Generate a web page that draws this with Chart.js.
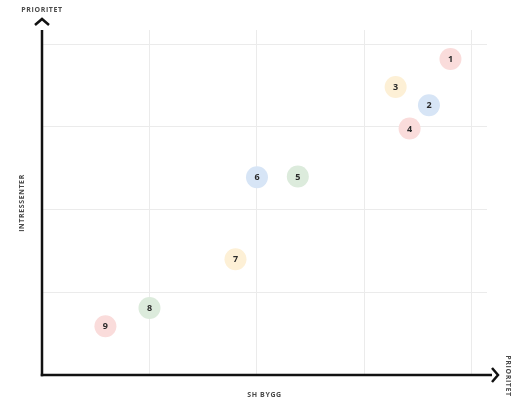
<!DOCTYPE html>
<html>
<head>
<meta charset="utf-8">
<script src="https://cdn.jsdelivr.net/npm/chart.js@4"></script>
<style>
  html, body { margin: 0; padding: 0; background: #fff; }
  #wrap { width: 523px; height: 402px; }
</style>
</head>
<body>
<div id="wrap"><canvas id="matrix"></canvas></div>
<script>
// --- data ---
const pointLabels = ['1', '2', '3', '4', '5', '6', '7', '8', '9'];
const shByggValues = [3.80, 3.60, 3.29, 3.42, 2.38, 2.00, 1.80, 1.00, 0.59];
const intressenterValues = [3.82, 3.26, 3.48, 2.98, 2.40, 2.39, 1.40, 0.81, 0.59];
const pointGroups = ['rod', 'bla', 'gul', 'rod', 'gron', 'bla', 'gul', 'gron', 'rod'];
const gridTicks = [0, 1, 2, 3, 4];

const xAxisTitle = 'SH BYGG';
const yAxisTitle = 'INTRESSENTER';
const arrowLabel = 'PRIORITET';

const groupColors = {
    rod: '#fadcdb',
    bla: '#d7e5f6',
    gul: '#fdf0d6',
    gron: '#dcebdc'
};

const axisColor = '#111111';
const gridColor = '#ebebeb';
const labelColor = '#4a4a4a';

const axesPlugin = {
    id: 'axesPlugin',
    afterDatasetsDraw(chart) {
        const { ctx, chartArea } = chart;
        const left = chartArea.left;
        const bottom = chartArea.bottom;

        ctx.save();
        ctx.strokeStyle = axisColor;
        ctx.lineWidth = 2.5;
        ctx.lineCap = 'butt';

        // y-axel
        ctx.beginPath();
        ctx.moveTo(left, bottom + 1.25);
        ctx.lineTo(left, chartArea.top);
        ctx.stroke();
        ctx.beginPath();
        ctx.moveTo(left - 7, chartArea.top - 5);
        ctx.lineTo(left, chartArea.top - 11);
        ctx.lineTo(left + 7, chartArea.top - 5);
        ctx.stroke();

        // x-axel
        ctx.beginPath();
        ctx.moveTo(left - 1.25, bottom);
        ctx.lineTo(chartArea.right + 5, bottom);
        ctx.stroke();
        ctx.beginPath();
        ctx.moveTo(chartArea.right + 5, bottom - 7);
        ctx.lineTo(chartArea.right + 11, bottom);
        ctx.lineTo(chartArea.right + 5, bottom + 7);
        ctx.stroke();

        // nummer i cirklarna
        const meta = chart.getDatasetMeta(0);
        ctx.fillStyle = '#2a2a2a';
        ctx.font = 'bold 9px "Open Sans"';
        ctx.textAlign = 'center';
        ctx.textBaseline = 'middle';
        meta.data.forEach((pt, i) => {
            ctx.fillText(pointLabels[i], pt.x, pt.y + 0.5);
        });

        // axeltexter
        ctx.fillStyle = labelColor;
        ctx.font = 'bold 7px "Open Sans"';
        ctx.letterSpacing = '0.6px';
        ctx.fillText(arrowLabel, left, 10);
        ctx.fillText(xAxisTitle, (left + chartArea.right) / 2, 395);

        ctx.save();
        ctx.translate(22, 203);
        ctx.rotate(-Math.PI / 2);
        ctx.fillText(yAxisTitle, 0, 0);
        ctx.restore();

        ctx.save();
        ctx.translate(508, 376);
        ctx.rotate(Math.PI / 2);
        ctx.fillText(arrowLabel, 0, 0);
        ctx.restore();

        ctx.restore();
    }
};

const ctx = document.getElementById('matrix').getContext('2d');

new Chart(ctx, {
    type: 'scatter',
    data: {
        labels: pointLabels,
        datasets: [{
            data: shByggValues.map((x, i) => ({ x: x, y: intressenterValues[i] })),
            backgroundColor: pointGroups.map(g => groupColors[g]),
            borderWidth: 0,
            pointRadius: 11,
            pointHoverRadius: 11
        }]
    },
    options: {
        responsive: true,
        maintainAspectRatio: false,
        animation: false,
        layout: {
            padding: { left: 42, top: 30, right: 36, bottom: 27 }
        },
        plugins: {
            legend: { display: false },
            tooltip: { enabled: false }
        },
        scales: {
            x: {
                type: 'linear',
                min: 0,
                max: 4.14,
                afterBuildTicks: axis => { axis.ticks = gridTicks.map(v => ({ value: v })); },
                ticks: { display: false },
                grid: { color: gridColor, drawTicks: false },
                border: { display: false }
            },
            y: {
                type: 'linear',
                min: 0,
                max: 4.17,
                afterBuildTicks: axis => { axis.ticks = gridTicks.map(v => ({ value: v })); },
                ticks: { display: false },
                grid: { color: gridColor, drawTicks: false },
                border: { display: false }
            }
        }
    },
    plugins: [axesPlugin]
});
</script>
</body>
</html>
